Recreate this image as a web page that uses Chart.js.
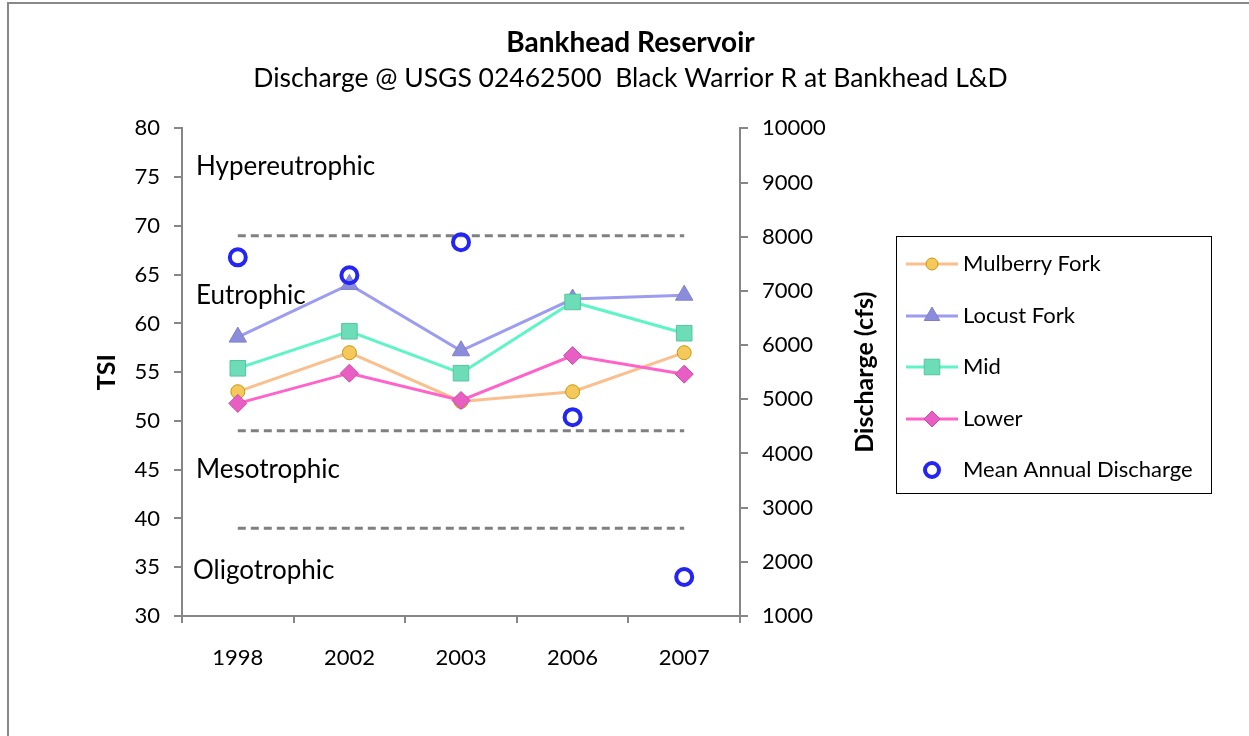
<!DOCTYPE html>
<html>
<head>
<meta charset="utf-8">
<script src="https://cdn.jsdelivr.net/npm/chart.js@4"></script>
<style>
html, body { margin: 0; padding: 0; background: #fff; }
</style>
</head>
<body>
<canvas id="myChart" width="1249" height="736"></canvas>
<script>
var years = ["1998", "2002", "2003", "2006", "2007"];
var mulberry = [53, 57, 52, 53, 57];
var locust = [58.6, 64, 57.2, 62.5, 62.9];
var mid = [55.4, 59.2, 54.9, 62.2, 59];
var lower = [51.8, 54.9, 52.1, 56.7, 54.8];
var discharge = [7620, 7290, 7900, 4670, 1720];
var hyperLimit = [69, 69, 69, 69, 69];
var eutroLimit = [49, 49, 49, 49, 49];
var mesoLimit = [39, 39, 39, 39, 39];
var zoneNames = ["Hypereutrophic", "Eutrophic", "Mesotrophic", "Oligotrophic"];
var tsiTicks = [30, 80, 5];
var cfsTicks = [1000, 10000, 1000];

var FONT = "Lato";
var AXIS = "#868686";

// line + marker sample, used for the legend
function icon(line, fill, border, style, r) {
    var c = document.createElement("canvas");
    c.width = 52; c.height = 24;
    var g = c.getContext("2d");
    if (line) {
        g.strokeStyle = line; g.lineWidth = 3;
        g.beginPath(); g.moveTo(0, 12); g.lineTo(52, 12); g.stroke();
    }
    g.fillStyle = fill; g.strokeStyle = border; g.lineWidth = style == "ring" ? 4 : 1;
    g.beginPath();
    if (style == "circle" || style == "ring") {
        g.arc(26, 12, r, 0, Math.PI * 2);
    } else if (style == "triangle") {
        g.moveTo(26, 12 - r); g.lineTo(26 + r * 0.866, 12 + r / 2); g.lineTo(26 - r * 0.866, 12 + r / 2); g.closePath();
    } else if (style == "rect") {
        var s = r * Math.SQRT1_2;
        g.rect(26 - s, 12 - s, 2 * s, 2 * s);
    } else {
        g.moveTo(26, 12 - r); g.lineTo(26 + r, 12); g.lineTo(26, 12 + r); g.lineTo(26 - r, 12); g.closePath();
    }
    if (style != "ring") g.fill();
    g.stroke();
    return c;
}

var series = [
    { label: "Mulberry Fork", data: mulberry, line: "#FBBF8E", fill: "#F4C85A", border: "#C9970A", style: "circle", r: 7 },
    { label: "Locust Fork", data: locust, line: "#9C9CF0", fill: "#8C8DDA", border: "#7E7FCC", style: "triangle", r: 10 },
    { label: "Mid", data: mid, line: "#5EF5C6", fill: "#6CDDB6", border: "#55C59F", style: "rect", r: 11 },
    { label: "Lower", data: lower, line: "#FF62C8", fill: "#E85EC4", border: "#C94AA6", style: "rectRot", r: 9 }
];

var datasets = [];
datasets.push({
    label: "Mean Annual Discharge", data: discharge, yAxisID: "y2", showLine: false,
    pointStyle: "circle", pointRadius: 8, pointBorderWidth: 4, pointBorderColor: "#2424F5",
    pointBackgroundColor: "rgba(0,0,0,0)", borderColor: "#2424F5", order: 0
});
series.forEach(function (s, i) {
    datasets.push({
        label: s.label, data: s.data, yAxisID: "y", borderColor: s.line, borderWidth: 3,
        pointStyle: s.style, pointRadius: s.r, pointBackgroundColor: s.fill,
        pointBorderColor: s.border, pointBorderWidth: 1, order: 1 + (4 - i)
    });
});
[hyperLimit, eutroLimit, mesoLimit].forEach(function (d) {
    datasets.push({
        label: "", data: d, yAxisID: "y", borderColor: "#808080", borderWidth: 3,
        borderDash: [8, 5], pointRadius: 0, order: 10
    });
});

var legendItems = series.map(function (s) {
    return { text: s.label, img: icon(s.line, s.fill, s.border, s.style, s.style == "rect" ? 11 : s.r - 1) };
});
legendItems.push({ text: "Mean Annual Discharge", img: icon(null, "#fff", "#2424F5", "ring", 7) });

var decor = {
    id: "decor",
    beforeDraw: function (chart) {
        var ctx = chart.ctx;
        ctx.save();
        ctx.strokeStyle = "#888"; ctx.lineWidth = 2;
        ctx.strokeRect(8, 3, 1300, 800);
        ctx.restore();
    },
    afterDraw: function (chart) {
        var ctx = chart.ctx, y = chart.scales.y;
        ctx.save();
        ctx.fillStyle = "#000";
        ctx.textBaseline = "middle";
        ctx.font = "26px " + FONT;
        ctx.textAlign = "left";
        ctx.fillText(zoneNames[0], 196, y.getPixelForValue(76.1));
        ctx.fillText(zoneNames[1], 196, y.getPixelForValue(62.9));
        ctx.fillText(zoneNames[2], 196, y.getPixelForValue(45));
        ctx.fillText(zoneNames[3], 193, y.getPixelForValue(34.7));

        // right axis title, reading bottom to top
        ctx.save();
        ctx.font = "bold 25px " + FONT;
        ctx.translate(865, (chart.chartArea.top + chart.chartArea.bottom) / 2);
        ctx.rotate(-Math.PI / 2);
        ctx.textAlign = "center";
        ctx.fillText("Discharge (cfs)", 0, 0);
        ctx.restore();

        // legend
        ctx.strokeStyle = "#000"; ctx.lineWidth = 1;
        ctx.strokeRect(896.5, 236.5, 315, 257);
        ctx.font = "22px " + FONT;
        legendItems.forEach(function (it, i) {
            var cy = 264 + i * 51.5;
            ctx.drawImage(it.img, 906, Math.round(cy - 12));
            ctx.fillText(it.text, 963, cy);
        });
        ctx.restore();
    }
};

var ctx = document.getElementById("myChart");
var myChart = new Chart(ctx, {
    type: "line",
    data: { labels: years, datasets: datasets },
    plugins: [decor],
    options: {
        responsive: false,
        animation: false,
        layout: { padding: { left: 12, right: 0, top: 0, bottom: 60 } },
        plugins: {
            title: {
                display: true, text: "Bankhead Reservoir", color: "#000",
                font: { family: FONT, size: 28, weight: "bold" }, padding: { top: 26, bottom: 1 }
            },
            subtitle: {
                display: true, text: "Discharge @ USGS 02462500  Black Warrior R at Bankhead L&D", color: "#000",
                font: { family: FONT, size: 26.5 }, padding: { top: 2, bottom: 34 }
            },
            legend: { display: false },
            tooltip: { enabled: false }
        },
        scales: {
            x: {
                offset: true,
                grid: { display: true, drawOnChartArea: false, tickLength: 7, color: AXIS, lineWidth: 2, offset: true },
                border: { color: AXIS, width: 2 },
                ticks: { color: "#000", font: { family: FONT, size: 22 }, padding: 22 },
                afterFit: function (s) { s.height = 60; }
            },
            y: {
                position: "left", min: tsiTicks[0], max: tsiTicks[1],
                ticks: { stepSize: tsiTicks[2], color: "#000", font: { family: FONT, size: 22 }, padding: 14 },
                grid: { drawOnChartArea: false, tickLength: 8, color: AXIS, lineWidth: 2 },
                border: { color: AXIS, width: 2 },
                title: { display: true, text: "TSI", color: "#000", font: { family: FONT, size: 25, weight: "bold" }, padding: { top: 80, bottom: 0 } },
                afterFit: function (s) { s.width = 170; }
            },
            y2: {
                position: "right", min: cfsTicks[0], max: cfsTicks[1],
                ticks: {
                    stepSize: cfsTicks[2], color: "#000", font: { family: FONT, size: 22 }, padding: 14,
                    callback: function (v) { return String(v); }
                },
                grid: { drawOnChartArea: false, tickLength: 8, color: AXIS, lineWidth: 2 },
                border: { color: AXIS, width: 2 },
                // room for the axis title and the legend on the right
                afterFit: function (s) { s.width = 509; }
            }
        }
    }
});
</script>
</body>
</html>
